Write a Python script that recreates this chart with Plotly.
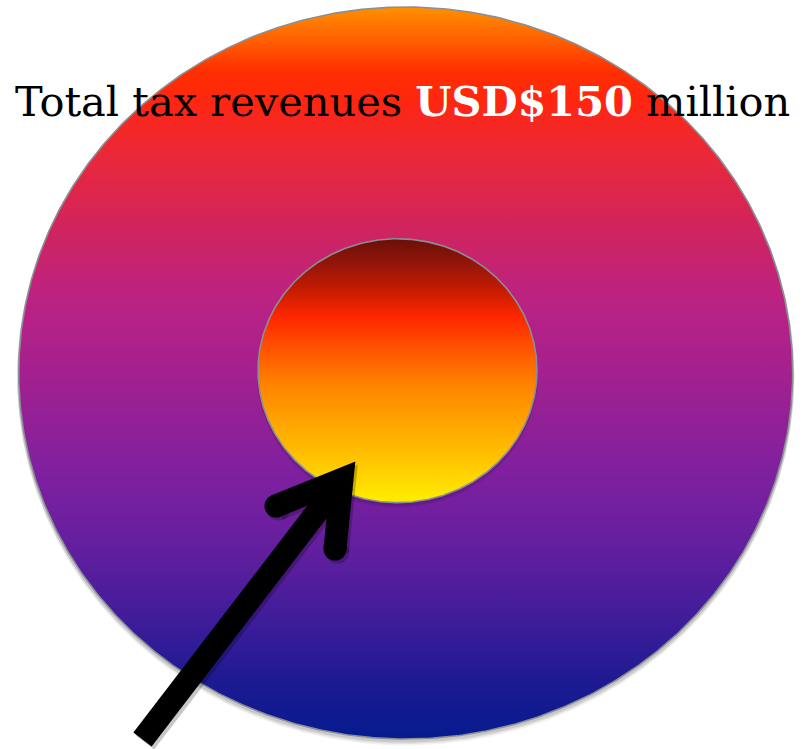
import numpy as np
import plotly.graph_objects as go

# Tax revenue figures (USD millions)
circle_names = ["Total tax revenues", "Highlighted share"]
circle_values = [150, 19.5]
headline_prefix = "Total tax revenues"
headline_unit = "million"

# Vertical colour ramps (0 = bottom, 1 = top)
outer_scale = [
    [0.00, "#061a8f"], [0.08, "#1e1a92"], [0.163, "#3f1c9a"], [0.272, "#661f9f"],
    [0.367, "#80209f"], [0.497, "#a3208f"], [0.60, "#bb2283"], [0.695, "#d0245f"],
    [0.805, "#ec2836"], [0.873, "#ff2610"], [0.914, "#ff3000"], [0.955, "#ff6000"],
    [1.00, "#ff9000"],
]
inner_scale = [
    [0.00, "#ffee00"], [0.165, "#ffc400"], [0.315, "#ffa200"], [0.446, "#ff8400"],
    [0.577, "#ff5500"], [0.70, "#ff2800"], [0.80, "#c81c00"], [0.895, "#98160a"],
    [1.00, "#6a0f08"],
]

W, H = 804, 749
# Page layout of the large disc (pixels)
CX, CY = 405.7, 373.0
RX, RY = 387.0, 366.0

R_outer = np.sqrt(circle_values[0])
R_inner = np.sqrt(circle_values[1])
kx = RX / R_outer          # pixels per unit, horizontal
ky = RY / R_outer          # pixels per unit, vertical

x_range = [-CX / kx, (W - CX) / kx]
y_range = [-(H - CY) / ky, CY / ky]

# inner disc sits slightly left of and above the centre
inner_dx = (397.5 - CX) / kx
inner_dy = (CY - 370.7) / ky

theta = np.linspace(0, 2 * np.pi, 721)


def disc(r, dx=0.0, dy=0.0):
    return dx + r * np.cos(theta), dy + r * np.sin(theta)


fig = go.Figure()

# soft drop shadow below the large disc
for off, alpha in [(5, 0.05), (3.5, 0.07), (2, 0.10)]:
    sx, sy = disc(R_outer + 1.5 / ky, 0, -off / ky)
    fig.add_trace(go.Scatter(x=sx, y=sy, mode="lines", fill="toself",
                             fillcolor=f"rgba(0,0,0,{alpha})",
                             line=dict(width=0), hoverinfo="skip", showlegend=False))

ox, oy = disc(R_outer)
fig.add_trace(go.Scatter(
    x=ox, y=oy, mode="lines", fill="toself", name=circle_names[0],
    fillgradient=dict(type="vertical", colorscale=outer_scale),
    line=dict(color="#8a8f94", width=1.6), hoverinfo="name", showlegend=False))

# shadow below the small disc
for off, alpha in [(4, 0.06), (2.5, 0.09)]:
    sx, sy = disc(R_inner + 1 / ky, inner_dx, inner_dy - off / ky)
    fig.add_trace(go.Scatter(x=sx, y=sy, mode="lines", fill="toself",
                             fillcolor=f"rgba(0,0,0,{alpha})",
                             line=dict(width=0), hoverinfo="skip", showlegend=False))

ix, iy = disc(R_inner, inner_dx, inner_dy)
fig.add_trace(go.Scatter(
    x=ix, y=iy, mode="lines", fill="toself", name=circle_names[1],
    fillgradient=dict(type="vertical", colorscale=inner_scale),
    line=dict(color="#8a8f94", width=1.6), hoverinfo="name", showlegend=False))


# Pointer arrow, laid out in page pixels
def px(x, y):
    return x / W, 1 - y / H


def path_from(points):
    pts = [px(*p) for p in points]
    return "M " + " L ".join(f"{a:.5f},{b:.5f}" for a, b in pts)


shaft = [(142.5, 739.5), (342.0, 479.3)]
head = [(276.0, 506.0), (342.0, 479.3), (335.0, 549.0)]
cap_r = 11.5
shapes = []
for (ddx, ddy, col, lw) in [(2.5, 3.0, "rgba(0,0,0,0.22)", 23), (0, 0, "black", 23)]:
    shift = lambda pts: [(a + ddx, b + ddy) for a, b in pts]
    shapes.append(dict(type="path", xref="paper", yref="paper",
                       path=path_from(shift(shaft)), line=dict(color=col, width=lw)))
    shapes.append(dict(type="path", xref="paper", yref="paper",
                       path=path_from(shift(head)), line=dict(color=col, width=lw)))
    for a, b in shift([head[0], head[2]]):
        x0, y0 = px(a - cap_r, b + cap_r)
        x1, y1 = px(a + cap_r, b - cap_r)
        shapes.append(dict(type="circle", xref="paper", yref="paper",
                           x0=x0, y0=y0, x1=x1, y1=y1,
                           fillcolor=col, line=dict(width=0)))

headline = (f"{headline_prefix} <b><span style='color:white'>USD${circle_values[0]:g}</span></b> "
            f"{headline_unit}")

fig.update_layout(
    width=W, height=H, autosize=False,
    margin=dict(l=0, r=0, t=0, b=0),
    paper_bgcolor="white", plot_bgcolor="white",
    xaxis=dict(range=x_range, visible=False, fixedrange=True),
    yaxis=dict(range=y_range, visible=False, fixedrange=True),
    shapes=shapes,
    annotations=[dict(
        text=headline, xref="paper", yref="paper",
        x=402.5 / W, y=1 - 102 / H, xanchor="center", yanchor="middle",
        showarrow=False,
        font=dict(family="DejaVu Serif", size=41.5, color="black"),
    )],
)

fig.write_html("out.html")
